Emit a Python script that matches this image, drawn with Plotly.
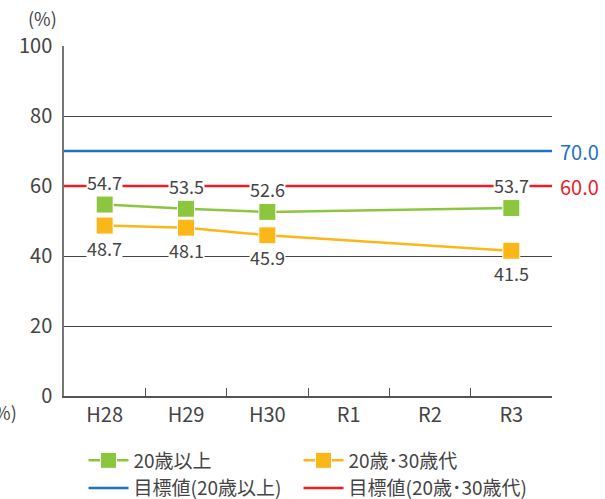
import plotly.graph_objects as go

categories = ["H28", "H29", "H30", "R1", "R2", "R3"]
over20 = [54.7, 53.5, 52.6, None, None, 53.7]
age2030 = [48.7, 48.1, 45.9, None, None, 41.5]
target_over20 = 70.0
target_2030 = 60.0
y_ticks = [0, 20, 40, 60, 80, 100]

GREEN = "#8cc63f"
ORANGE = "#fbb617"
BLUE = "#1f72bf"
RED = "#ee1c25"
TXT = "#444444"
FONT = "Noto Sans CJK JP"

xs = list(range(len(categories)))
xmin, xmax = -0.5, len(categories) - 0.5

def pts(vals):
    return [x for x, v in zip(xs, vals) if v is not None], [v for v in vals if v is not None]

gx, gy = pts(over20)
ox, oy = pts(age2030)

fig = go.Figure()
fig.add_trace(go.Scatter(x=[xmin, xmax], y=[target_over20] * 2, mode="lines", name="目標値(20歳以上)",
                         line=dict(color=BLUE, width=2.5), cliponaxis=False, legendrank=3))
fig.add_trace(go.Scatter(x=[xmin, xmax], y=[target_2030] * 2, mode="lines", name="目標値(20歳･30歳代)",
                         line=dict(color=RED, width=2.5), cliponaxis=False, legendrank=4))
fig.add_trace(go.Scatter(x=gx, y=gy, mode="lines+markers", name="20歳以上", legendrank=1,
                         line=dict(color=GREEN, width=2.5),
                         marker=dict(symbol="square", size=17, color=GREEN, line=dict(color="white", width=1))))
fig.add_trace(go.Scatter(x=ox, y=oy, mode="lines+markers", name="20歳･30歳代", legendrank=2,
                         line=dict(color=ORANGE, width=2.5),
                         marker=dict(symbol="square", size=17, color=ORANGE, line=dict(color="white", width=1))))

lab_font = dict(size=18, color=TXT, family=FONT)
annotations = []
for x, v in zip(gx, gy):
    annotations.append(dict(x=x, y=v, text=f"{v:.1f}", showarrow=False, yshift=23,
                            bgcolor="white", font=lab_font, borderpad=0))
for x, v in zip(ox, oy):
    annotations.append(dict(x=x, y=v, text=f"{v:.1f}", showarrow=False, yshift=-22,
                            bgcolor="white", font=lab_font, borderpad=0))
annotations.append(dict(x=1, xref="paper", xanchor="left", xshift=6, y=target_over20, text=f"{target_over20:.1f}",
                        showarrow=False, font=dict(size=20, color=BLUE, family=FONT)))
annotations.append(dict(x=1, xref="paper", xanchor="left", xshift=6, y=target_2030, text=f"{target_2030:.1f}",
                        showarrow=False, font=dict(size=20, color=RED, family=FONT)))
annotations.append(dict(x=-0.045, xref="paper", xanchor="center", y=1.0, yref="paper", yanchor="middle", yshift=28,
                        text="(%)", showarrow=False, font=dict(size=18, color=TXT, family=FONT)))
annotations.append(dict(x=-0.092, xref="paper", xanchor="right", y=-0.045, yref="paper", yanchor="middle",
                        text="(%)", showarrow=False, font=dict(size=18, color=TXT, family=FONT)))

fig.update_layout(
    width=605, height=499,
    margin=dict(l=64, r=53, t=46, b=103, autoexpand=False),
    paper_bgcolor="white", plot_bgcolor="white",
    font=dict(family=FONT, color=TXT),
    showlegend=True,
    legend=dict(orientation="h", x=0.04, xanchor="left", y=-0.13, yanchor="top",
                entrywidth=160, font=dict(size=19, color=TXT, family=FONT),
                bgcolor="rgba(0,0,0,0)",
                traceorder="normal", itemwidth=40),
    annotations=annotations,
    xaxis=dict(range=[xmin, xmax], tickvals=xs, ticktext=categories, showgrid=False, zeroline=False,
               showline=True, linecolor="#555555", linewidth=1.5, ticks="",
               tickfont=dict(size=20, color=TXT, family=FONT),
               minor=dict(tickvals=[x + 0.5 for x in xs[:-1]], ticks="inside", ticklen=8,
                          tickcolor="#555555", tickwidth=1, showgrid=False)),
    yaxis=dict(range=[0, 100], tickvals=y_ticks, showgrid=True, gridcolor="#444444", gridwidth=1,
               zeroline=False, showline=True, linecolor="#777777", linewidth=1.5, ticks="",
               ticklabelstandoff=6,
               tickfont=dict(size=20, color=TXT, family=FONT)),
)

post = (
    "document.body.style.margin='0';"
    "document.querySelectorAll('.legend .scrollbox').forEach(function(e){e.removeAttribute('clip-path');});"
)
fig.write_html("out.html", config={"displayModeBar": False}, post_script=post)
